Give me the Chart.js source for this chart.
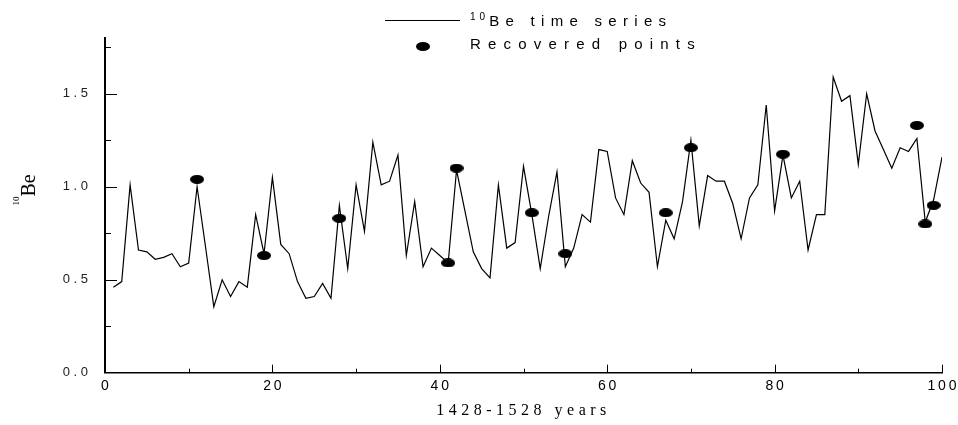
<!DOCTYPE html>
<html>
<head>
<meta charset="utf-8">
<script src="https://cdn.jsdelivr.net/npm/chart.js@4.4.0/dist/chart.umd.min.js"></script>
<style>
  body { margin: 0; background: #fff; }
  #wrap { position: relative; width: 958px; height: 425px; }
  canvas { position: absolute; left: 0; top: 0; }
  .leg { position: absolute; font-family: "Liberation Sans", Arial, sans-serif; font-size: 15px;
         line-height: 17px; letter-spacing: 6.3px; color: #000; white-space: nowrap; }
  .leg sup { font-size: 10px; line-height: 0; letter-spacing: 4px; }
  #legLine { position: absolute; left: 385px; top: 20px; width: 75px; height: 1px; background: #000; }
  #legDot { position: absolute; left: 416px; top: 42px; width: 14px; height: 9px; border-radius: 50%; background: #000; }
</style>
</head>
<body>
<div id="wrap">
  <canvas id="grafico" width="958" height="425"></canvas>
  <div id="legLine"></div>
  <div class="leg" style="left:470px; top:12px;"><sup>10</sup>Be time series</div>
  <div id="legDot"></div>
  <div class="leg" style="left:470px; top:35px; letter-spacing:7.2px;">Recovered points</div>
</div>
<script>
// === Dados ===
const years = [];
for (let i = 1; i <= 100; i++) years.push(i);

const beValues = [
  0.46, 0.49, 1.01, 0.66, 0.65, 0.61, 0.62, 0.64, 0.57, 0.59,
  1.00, 0.68, 0.355, 0.50, 0.41, 0.49, 0.46, 0.85, 0.64, 1.05,
  0.69, 0.64, 0.49, 0.40, 0.41, 0.48, 0.40, 0.90, 0.56, 1.01,
  0.76, 1.24, 1.01, 1.03, 1.17, 0.63, 0.92, 0.57, 0.67, 0.63,
  0.59, 1.09, 0.87, 0.65, 0.56, 0.51, 1.01, 0.67, 0.70, 1.11,
  0.85, 0.56, 0.84, 1.08, 0.57, 0.67, 0.85, 0.81, 1.20, 1.19,
  0.94, 0.85, 1.14, 1.02, 0.97, 0.57, 0.82, 0.72, 0.92, 1.25,
  0.79, 1.06, 1.03, 1.03, 0.91, 0.72, 0.94, 1.01, 1.44, 0.87,
  1.17, 0.94, 1.03, 0.66, 0.85, 0.85, 1.59, 1.46, 1.49, 1.12,
  1.50, 1.30, 1.20, 1.10, 1.21, 1.19, 1.26, 0.81, 0.93, 1.16
];

const recoveredYears = [11, 19, 28, 41, 42, 51, 55, 67, 70, 81, 97, 98, 99];
const recoveredValues = [1.04, 0.63, 0.83, 0.59, 1.10, 0.86, 0.64, 0.86, 1.21, 1.175, 1.33, 0.80, 0.90];

const xTicks = [0, 20, 40, 60, 80, 100];
const yTicks = [0, 0.5, 1.0, 1.5];
const xTitle = "1428-1528 years";

// === Marcador elíptico ===
const dot = document.createElement("canvas");
dot.width = 14;
dot.height = 9;
const dctx = dot.getContext("2d");
dctx.fillStyle = "#000";
dctx.beginPath();
dctx.ellipse(7, 4.5, 7, 4.5, 0, 0, 2 * Math.PI);
dctx.fill();

// === Ticks para dentro, títulos dos eixos ===
const extrasPlugin = {
  id: "extras",
  afterDraw(chart) {
    const ctx = chart.ctx;
    const xs = chart.scales.x;
    const ys = chart.scales.y;
    const area = chart.chartArea;
    ctx.save();
    ctx.strokeStyle = "#000";
    ctx.lineWidth = 1;
    for (let v = 0.25; v < 1.8; v += 0.25) {
      const y = Math.round(ys.getPixelForValue(v)) + 0.5;
      const len = Math.abs(v / 0.5 - Math.round(v / 0.5)) < 0.01 ? 12 : 6;
      ctx.beginPath();
      ctx.moveTo(area.left, y);
      ctx.lineTo(area.left + len, y);
      ctx.stroke();
    }
    for (let v = 10; v <= 100; v += 10) {
      const x = Math.round(xs.getPixelForValue(v)) + 0.5;
      const len = v % 20 === 0 ? 8 : 4;
      ctx.beginPath();
      ctx.moveTo(x, area.bottom);
      ctx.lineTo(x, area.bottom - len);
      ctx.stroke();
    }

    // título do eixo x, espaçado
    ctx.fillStyle = "#000";
    ctx.font = '16px "Liberation Serif", "Times New Roman", serif';
    ctx.textAlign = "center";
    ctx.textBaseline = "alphabetic";
    if ("letterSpacing" in ctx) ctx.letterSpacing = "4.5px";
    ctx.fillText(xTitle, (area.left + area.right) / 2, 415);
    if ("letterSpacing" in ctx) ctx.letterSpacing = "0px";

    // título do eixo y: 10Be girado
    ctx.translate(35, 190);
    ctx.rotate(-Math.PI / 2);
    ctx.textAlign = "left";
    ctx.font = '20px "Liberation Serif", "Times New Roman", serif';
    const wBe = ctx.measureText("Be").width;
    ctx.font = '9px "Liberation Serif", "Times New Roman", serif';
    const wSup = ctx.measureText("10").width;
    const start = -(wBe + wSup) / 2;
    ctx.fillText("10", start, -16);
    ctx.font = '20px "Liberation Serif", "Times New Roman", serif';
    ctx.fillText("Be", start + wSup, 0);
    ctx.restore();
  }
};

// === Gráfico ===
const ctx = document.getElementById("grafico").getContext("2d");
const chart = new Chart(ctx, {
  type: "line",
  data: {
    datasets: [
      {
        label: "Recovered points",
        data: recoveredYears.map((x, i) => ({ x, y: recoveredValues[i] })),
        showLine: false,
        pointStyle: dot,
        pointRadius: 7,
        order: 0,
      },
      {
        label: "10Be time series",
        data: years.map((x, i) => ({ x, y: beValues[i] })),
        borderColor: "#000",
        borderWidth: 1.2,
        pointRadius: 0,
        tension: 0,
        fill: false,
        order: 1,
      },
    ],
  },
  options: {
    responsive: false,
    animation: false,
    devicePixelRatio: 1,
    layout: { padding: { left: 0, top: 38, right: 16, bottom: 0 } },
    plugins: {
      legend: { display: false },
      tooltip: { enabled: false },
    },
    scales: {
      x: {
        type: "linear",
        min: 0,
        max: 100,
        grid: { display: false, drawTicks: false },
        border: { display: true, color: "#000", width: 1.5 },
        afterBuildTicks: (s) => { s.ticks = xTicks.map((v) => ({ value: v })); },
        afterFit: (s) => { s.height = 52.3; s.paddingLeft = 0; s.paddingRight = 0; },
        ticks: {
          padding: 5,
          color: "#000",
          maxRotation: 0,
          font: { family: "'Liberation Sans', Arial, sans-serif", size: 14 },
          callback: (v) => String(v).split("").join("\u2009"),
        },
      },
      y: {
        min: 0,
        max: 1.8,
        grid: { display: false, drawTicks: false },
        border: { display: true, color: "#000", width: 2 },
        afterBuildTicks: (s) => { s.ticks = yTicks.map((v) => ({ value: v })); },
        afterFit: (s) => { s.width = 105; s.paddingTop = 0; s.paddingBottom = 0; },
        ticks: {
          padding: 17,
          color: "#222",
          font: { family: "'Liberation Sans', Arial, sans-serif", size: 13 },
          callback: (v) => Number(v).toFixed(1).split("").join(" "),
        },
      },
    },
  },
  plugins: [extrasPlugin],
});
</script>
</body>
</html>
